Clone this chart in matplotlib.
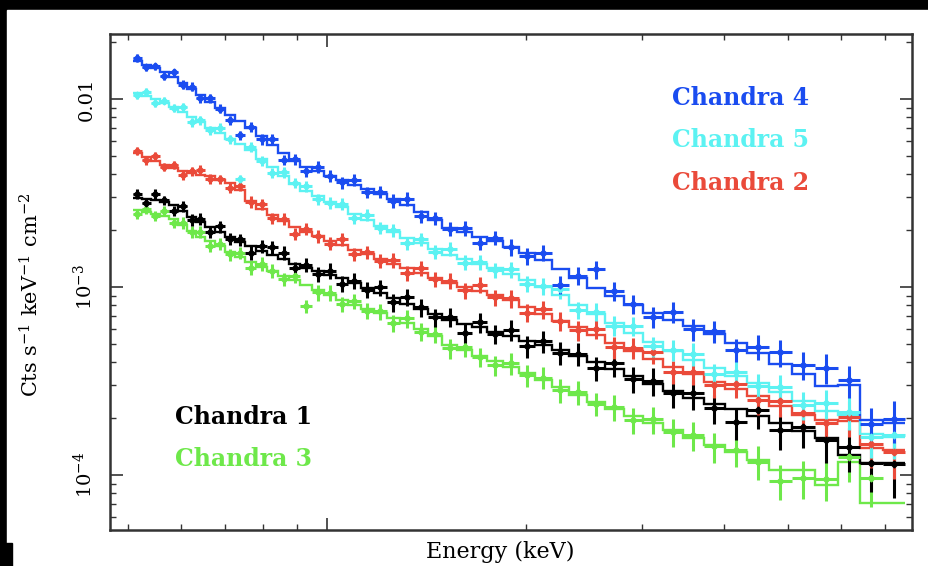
import matplotlib.pyplot as plt
import numpy as np
from matplotlib.patches import Rectangle
from matplotlib.ticker import FixedLocator, LogLocator, NullFormatter

plt.rcParams['font.family'] = 'DejaVu Serif'
plt.rcParams['mathtext.fontset'] = 'dejavuserif'

# Energy bin edges (keV), shared by all five spectra.
energy_edges = [0.508, 0.524, 0.541, 0.558, 0.576, 0.595, 0.614, 0.633, 0.653, 0.677,
                0.701, 0.725, 0.751, 0.781, 0.811, 0.843, 0.876, 0.910, 0.949, 0.990,
                1.032, 1.076, 1.126, 1.178, 1.233, 1.290, 1.355, 1.422, 1.494, 1.574,
                1.659, 1.748, 1.848, 1.954, 2.066, 2.193, 2.326, 2.477, 2.638, 2.818,
                3.012, 3.229, 3.463, 3.726, 4.009, 4.328, 4.673, 5.063, 5.487, 5.947,
                6.421, 6.957, 7.510]

# Relative 1-sigma error per bin (brightest spectrum).
rel_err = [0.05, 0.05, 0.05, 0.05, 0.05, 0.06, 0.06, 0.06, 0.06, 0.06,
           0.06, 0.06, 0.07, 0.07, 0.07, 0.07, 0.07, 0.07, 0.08, 0.08,
           0.08, 0.08, 0.08, 0.08, 0.09, 0.09, 0.09, 0.09, 0.10, 0.10,
           0.10, 0.10, 0.11, 0.11, 0.11, 0.12, 0.12, 0.12, 0.13, 0.13,
           0.14, 0.14, 0.15, 0.15, 0.16, 0.17, 0.18, 0.19, 0.20, 0.22,
           0.25, 0.28]

# Chandra 4 (blue)
blue_model = [0.01593, 0.01516, 0.01462, 0.01392, 0.01309, 0.01216, 0.01130, 0.01050, 0.00964, 0.00896,
              0.00822, 0.00764, 0.00701, 0.00636, 0.00569, 0.00516, 0.00468, 0.00435, 0.00414, 0.00390,
              0.00371, 0.00349, 0.00332, 0.00312, 0.00294, 0.00273, 0.00251, 0.00227, 0.00206, 0.00196,
              0.00185, 0.00176, 0.00163, 0.00152, 0.00139, 0.00125, 0.00112, 0.000988, 0.000896, 0.000802,
              0.000727, 0.000668, 0.000620, 0.000562, 0.000504, 0.000446, 0.000390, 0.000345, 0.000297, 0.000301,
              0.000196, 0.000189]
blue_data = [0.01657, 0.01471, 0.01491, 0.01322, 0.01388, 0.01192, 0.01164, 0.01008, 0.01012, 0.00887,
             0.00773, 0.00642, 0.00708, 0.00611, 0.00609, 0.00475, 0.00477, 0.00413, 0.00435, 0.00390,
             0.00360, 0.00370, 0.00319, 0.00321, 0.00288, 0.00295, 0.00238, 0.00232, 0.00204, 0.00206,
             0.00172, 0.00183, 0.00163, 0.00146, 0.00152, 0.00103, 0.00115, 0.00124, 0.000950, 0.000810,
             0.000691, 0.000735, 0.000595, 0.000584, 0.000464, 0.000482, 0.000449, 0.000386, 0.000371, 0.000319,
             0.000186, 0.000198]

# Chandra 5 (cyan)
cyan_model = [0.01076, 0.01037, 0.01000, 0.00952, 0.00907, 0.00853, 0.00802, 0.00754, 0.00701, 0.00659,
              0.00612, 0.00576, 0.00535, 0.00479, 0.00435, 0.00389, 0.00353, 0.00324, 0.00305, 0.00283,
              0.00266, 0.00244, 0.00227, 0.00211, 0.00196, 0.00182, 0.00171, 0.00159, 0.00148, 0.00141,
              0.00132, 0.00126, 0.00117, 0.00109, 0.000999, 0.000907, 0.000802, 0.000718, 0.000643, 0.000569,
              0.000509, 0.000456, 0.000409, 0.000371, 0.000336, 0.000308, 0.000276, 0.000248, 0.000219, 0.000209,
              0.000166, 0.000160]
cyan_data = [0.01044, 0.01089, 0.00950, 0.00981, 0.00898, 0.00904, 0.00754, 0.00769, 0.00680, 0.00705,
             0.00612, 0.00375, 0.00556, 0.00469, 0.00405, 0.00408, 0.00357, 0.00343, 0.00293, 0.00280,
             0.00277, 0.00232, 0.00243, 0.00207, 0.00200, 0.00171, 0.00180, 0.00154, 0.00160, 0.00135,
             0.00136, 0.00123, 0.00124, 0.00104, 0.00101, 0.000970, 0.000754, 0.000740, 0.000624, 0.000620,
             0.000484, 0.000465, 0.000442, 0.000345, 0.000353, 0.000299, 0.000293, 0.000236, 0.000241, 0.000217,
             0.000159, 0.000163]

# Chandra 2 (red)
red_model = [0.005158, 0.004911, 0.004676, 0.004452, 0.004292, 0.004137, 0.004037, 0.003939, 0.003891, 0.003705,
             0.003571, 0.003277, 0.002864, 0.002596, 0.002412, 0.002241, 0.002083, 0.001958, 0.001865, 0.001756,
             0.001672, 0.001573, 0.001498, 0.001409, 0.001324, 0.001261, 0.001187, 0.001116, 0.001050, 0.000999,
             0.000952, 0.000907, 0.000853, 0.000783, 0.000718, 0.000659, 0.000612, 0.000555, 0.000503, 0.000456,
             0.000414, 0.000375, 0.000345, 0.000312, 0.000287, 0.000263, 0.000233, 0.000209, 0.000196, 0.000194,
             0.000140, 0.000136]
red_data = [0.00531, 0.00471, 0.00496, 0.00436, 0.00446, 0.00393, 0.00412, 0.00421, 0.00377, 0.00374,
            0.00336, 0.00344, 0.00284, 0.00275, 0.00232, 0.00231, 0.00192, 0.00204, 0.00187, 0.00170,
            0.00179, 0.00149, 0.00153, 0.00138, 0.00139, 0.00119, 0.00126, 0.00110, 0.00108, 0.000959,
            0.00103, 0.000880, 0.000870, 0.000728, 0.000761, 0.000659, 0.000588, 0.000599, 0.000478, 0.000474,
            0.000451, 0.000353, 0.000355, 0.000303, 0.000304, 0.000250, 0.000249, 0.000213, 0.000188, 0.000204,
            0.000146, 0.000132]

# Chandra 1 (black)
black_model = [0.002971, 0.002935, 0.002899, 0.002829, 0.002727, 0.002534, 0.002354, 0.002214, 0.002083, 0.001958,
               0.001842, 0.001735, 0.001652, 0.001554, 0.001479, 0.001409, 0.001324, 0.001261, 0.001216, 0.001158,
               0.001116, 0.001050, 0.000987, 0.000929, 0.000874, 0.000812, 0.000764, 0.000718, 0.000667, 0.000635,
               0.000612, 0.000576, 0.000548, 0.000516, 0.000491, 0.000462, 0.000429, 0.000399, 0.000366, 0.000336,
               0.000305, 0.000280, 0.000257, 0.000239, 0.000225, 0.000206, 0.000189, 0.000172, 0.000158, 0.000128,
               0.000116, 0.000116]
black_data = [0.00312, 0.00279, 0.00313, 0.00289, 0.00254, 0.00269, 0.00228, 0.00230, 0.00196, 0.00210,
              0.00181, 0.00179, 0.00152, 0.00165, 0.00163, 0.00152, 0.00126, 0.00131, 0.00117, 0.00122,
              0.00104, 0.00108, 0.000967, 0.000994, 0.000830, 0.000885, 0.000779, 0.000689, 0.000694, 0.000572,
              0.000649, 0.000564, 0.000592, 0.000485, 0.000516, 0.000448, 0.000442, 0.000371, 0.000392, 0.000323,
              0.000317, 0.000274, 0.000272, 0.000227, 0.000191, 0.000222, 0.000174, 0.000181, 0.000153, 0.000141,
              0.000116, 0.000114]

# Chandra 3 (green)
green_model = [0.002565, 0.002503, 0.002442, 0.002383, 0.002297, 0.002134, 0.001983, 0.001842, 0.001756, 0.001652,
               0.001535, 0.001444, 0.001357, 0.001277, 0.001216, 0.001144, 0.001089, 0.001024, 0.000964, 0.000907,
               0.000853, 0.000802, 0.000764, 0.000727, 0.000684, 0.000643, 0.000597, 0.000548, 0.000491, 0.000462,
               0.000429, 0.000404, 0.000375, 0.000349, 0.000320, 0.000294, 0.000266, 0.000245, 0.000225, 0.000206,
               0.000189, 0.000174, 0.000158, 0.000145, 0.000133, 0.000120, 0.000106, 0.000106, 0.0000884, 0.000117,
               0.0000709, 0.0000709]
green_data = [0.00246, 0.00260, 0.00239, 0.00253, 0.00218, 0.00220, 0.00196, 0.00197, 0.00165, 0.00169,
              0.00149, 0.00152, 0.00126, 0.00133, 0.00122, 0.00110, 0.00115, 0.000790, 0.000935, 0.000934,
              0.000810, 0.000842, 0.000749, 0.000742, 0.000643, 0.000682, 0.000579, 0.000564, 0.000471, 0.000480,
              0.000425, 0.000384, 0.000394, 0.000339, 0.000330, 0.000282, 0.000277, 0.000240, 0.000230, 0.000196,
              0.000198, 0.000169, 0.000163, 0.000142, 0.000136, 0.000118, 0.0000935, 0.0000965, 0.0000955, 0.000125,
              0.0000960, np.nan]

colors = ['#6ee84a', '#000000', '#ea4a3a', '#5cf2f2', '#1a4cf0']
models = [green_model, black_model, red_model, cyan_model, blue_model]
datas = [green_data, black_data, red_data, cyan_data, blue_data]
err_scale = [1.2, 1.2, 1.0, 0.9, 0.9]

fig = plt.figure(figsize=(9.29, 5.66), dpi=100, facecolor='black')
# white page on top of the dark background strip
fig.patches.append(Rectangle((7 / 929, 0), 1, 556 / 566, transform=fig.transFigure,
                             color='white', zorder=-10))
fig.patches.append(Rectangle((0, 0), 12 / 929, 23 / 566, transform=fig.transFigure,
                             color='black', zorder=-9))
ax = fig.add_axes([0.1184, 0.0636, 0.8633, 0.8763])

edges = np.array(energy_edges)
centers = np.sqrt(edges[:-1] * edges[1:])
xerr = [centers - edges[:-1], edges[1:] - centers]

for model, data, col, es in zip(models, datas, colors, err_scale):
    d = np.array(data)
    ax.errorbar(centers, d, xerr=xerr, yerr=d * np.array(rel_err) * es,
                fmt='D', ms=3.5, color=col, elinewidth=2.2, capsize=0)
    ax.stairs(model, edges, color=col, lw=1.7, baseline=None)

ax.set_xscale('log')
ax.set_yscale('log')
ax.set_xlim(0.469, 7.70)
ax.set_ylim(5.10e-5, 0.02216)

ax.xaxis.set_major_locator(FixedLocator([1.0]))
ax.xaxis.set_minor_locator(FixedLocator([0.5, 0.6, 0.7, 0.8, 0.9, 2, 3, 4, 5, 6, 7]))
ax.xaxis.set_major_formatter(NullFormatter())
ax.xaxis.set_minor_formatter(NullFormatter())
ax.yaxis.set_major_locator(FixedLocator([1e-4, 1e-3, 1e-2]))
ax.yaxis.set_minor_locator(LogLocator(base=10, subs=np.arange(2, 10)))
ax.yaxis.set_minor_formatter(NullFormatter())
ax.set_yticklabels(['10$^{-4}$', '10$^{-3}$', '0.01'], rotation=90, va='center')

ax.tick_params(which='both', direction='in', top=True, right=True, color='#333333')
ax.tick_params(which='major', length=9, width=1.2)
ax.tick_params(which='minor', length=4.5, width=1.0)
ax.tick_params(axis='y', labelsize=14, pad=10)
for sp in ax.spines.values():
    sp.set_linewidth(1.8)
    sp.set_color('#333333')

ax.set_xlabel('Energy (keV)', fontsize=16)
ax.xaxis.set_label_coords(0.486, -0.022)
ax.set_ylabel('Cts s$^{-1}$ keV$^{-1}$ cm$^{-2}$', fontsize=15)
ax.yaxis.set_label_coords(-0.084, 0.474)

# labels written inside the frame
ax.text(0.701, 0.871, 'Chandra 4', transform=ax.transAxes, color='#1a4cf0',
        fontsize=17, fontweight='bold', va='center')
ax.text(0.701, 0.786, 'Chandra 5', transform=ax.transAxes, color='#5cf2f2',
        fontsize=17, fontweight='bold', va='center')
ax.text(0.701, 0.700, 'Chandra 2', transform=ax.transAxes, color='#ea4a3a',
        fontsize=17, fontweight='bold', va='center')
ax.text(0.081, 0.228, 'Chandra 1', transform=ax.transAxes, color='#000000',
        fontsize=17, fontweight='bold', va='center')
ax.text(0.081, 0.143, 'Chandra 3', transform=ax.transAxes, color='#6ee84a',
        fontsize=17, fontweight='bold', va='center')

fig.savefig('out.png', dpi=100, facecolor=fig.get_facecolor())
